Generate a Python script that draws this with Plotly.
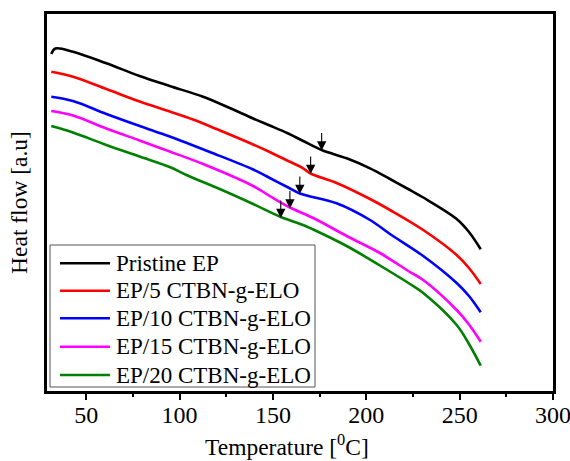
import plotly.graph_objects as go

# ---- data (arbitrary heat-flow units) ----
names = ["Pristine EP", "EP/5 CTBN-g-ELO", "EP/10 CTBN-g-ELO", "EP/15 CTBN-g-ELO", "EP/20 CTBN-g-ELO"]
colors = ["#000000", "#ff0000", "#0000ff", "#ff00ff", "#008000"]

t_black = [31.3, 33.5, 42.9, 60.8, 78.6, 94.7, 112.6, 126.9, 139.4, 148.3, 158.2, 166.2, 176.1, 189.5, 202.0, 212.7, 223.4, 230.5, 248.4, 255.0, 261.3]
y_black = [337, 342.5, 339.3, 327.7, 315, 305, 294.3, 283, 272.5, 265.5, 257.5, 250, 241, 232.7, 222.7, 212, 201, 193.5, 172, 159, 141.7]

t_red = [31.3, 42.9, 60.8, 78.6, 94.7, 107.2, 119.8, 139.4, 148.3, 158.2, 166.2, 170.2, 184.1, 202.0, 212.7, 230.5, 248.4, 255.0, 261.3]
y_red = [319.3, 314.3, 302, 289.5, 279.5, 271.5, 262, 246.5, 239, 230, 222.7, 217.5, 208, 192, 181, 161, 136, 123, 107]

t_blue = [31.3, 42.9, 60.8, 78.6, 94.7, 116.2, 139.4, 148.3, 158.2, 164.4, 184.1, 202.0, 212.7, 230.5, 248.4, 255.0, 261.3]
y_blue = [294.3, 290, 277, 265, 254.5, 239, 221.5, 213, 203.5, 197.5, 187.7, 171, 157, 135, 108, 95, 78.7]

t_mag = [31.3, 42.9, 60.8, 78.6, 94.7, 112.6, 139.4, 148.3, 159.1, 171.6, 189.5, 207.3, 223.4, 230.5, 248.4, 255.0, 261.3]
y_mag = [280, 275.5, 262.5, 250.5, 239.5, 227, 205, 195, 183.5, 173, 155, 138, 119, 111, 81, 66.5, 49.3]

t_green = [31.3, 42.9, 60.8, 78.6, 94.7, 103.7, 121.5, 139.4, 154.2, 166.2, 171.6, 189.5, 207.3, 223.4, 230.5, 248.4, 255.0, 261.3]
y_green = [265, 258.5, 246, 234.5, 224, 216, 202, 187, 174, 166, 161.5, 145, 125.5, 107, 98, 66, 47, 25.3]

# glass-transition arrows (temperature, curve value at arrow tip)
arrow_t = [176.1, 170.2, 164.4, 159.1, 154.2]
arrow_y = [240.5, 217, 197, 182.5, 173]

x_ticks = [50, 100, 150, 200, 250, 300]

series_t = [t_black, t_red, t_blue, t_mag, t_green]
series_y = [y_black, y_red, y_blue, y_mag, y_green]

FONT = "Liberation Serif, Times New Roman, serif"

fig = go.Figure()
for n, c, tt, yy in zip(names, colors, series_t, series_y):
    fig.add_trace(go.Scatter(x=tt, y=yy, mode="lines", name=n,
                             line=dict(color=c, width=2.6, shape="spline", smoothing=1.0),
                             showlegend=False))

for at, ay in zip(arrow_t, arrow_y):
    fig.add_annotation(x=at, y=ay, xref="x", yref="y", text="", showarrow=True,
                       ax=0, ay=-19, arrowhead=2, arrowsize=1.7, arrowwidth=1.1,
                       arrowcolor="#000000")

# ---- manual legend (box, line samples, labels) ----
W_PLOT, H_PLOT, L, B = 506, 377, 47, 70
def px_x(p):
    return (p - L) / W_PLOT
def px_y(p):
    return (461 - B - p) / H_PLOT

fig.add_shape(type="rect", xref="paper", yref="paper",
              x0=px_x(50), x1=px_x(315), y0=px_y(387), y1=px_y(245),
              line=dict(color="#555555", width=1), fillcolor="white", layer="above")
row_px = [263.3, 290.7, 318.3, 346.7, 375]
for n, c, r in zip(names, colors, row_px):
    fig.add_shape(type="line", xref="paper", yref="paper",
                  x0=px_x(60), x1=px_x(110), y0=px_y(r), y1=px_y(r),
                  line=dict(color=c, width=2.6), layer="above")
    fig.add_annotation(x=px_x(114), y=px_y(r), xref="paper", yref="paper",
                       text=n, showarrow=False, xanchor="left", yanchor="middle",
                       font=dict(family=FONT, size=23, color="#000000"))

# x-axis title (placed slightly left of centre, as in the reference)
fig.add_annotation(x=px_x(287), y=px_y(445), xref="paper", yref="paper",
                   text="Temperature [<sup>0</sup>C]", showarrow=False,
                   xanchor="center", yanchor="middle",
                   font=dict(family=FONT, size=23.5, color="#000000"))

fig.update_layout(
    width=570, height=461,
    margin=dict(l=L, r=17, t=14, b=B, autoexpand=False),
    paper_bgcolor="white", plot_bgcolor="white",
    font=dict(family=FONT, size=23, color="#000000"),
    xaxis=dict(range=[29, 300], tickvals=x_ticks, ticks="outside", ticklen=6, tickwidth=2,
               tickcolor="#000000", showline=True, linecolor="#000000", linewidth=2.5,
               mirror=True, showgrid=False, zeroline=False, automargin=False,
               tickfont=dict(family=FONT, size=24), ticklabeloverflow="allow",
               ticklabelstandoff=-6,
               minor=dict(dtick=25, tick0=25, ticks="outside", ticklen=3, tickwidth=1.5,
                          tickcolor="#000000", showgrid=False)),
    yaxis=dict(range=[0, 377], showticklabels=False, ticks="", showline=True,
               linecolor="#000000", linewidth=2.5, mirror=True, showgrid=False,
               zeroline=False, automargin=False,
               title=dict(text="Heat flow [a.u]", standoff=11,
                          font=dict(family=FONT, size=23.5))),
)

fig.write_html("out.html", config={"displayModeBar": False},
               post_script="document.body.style.margin='0px';document.body.style.overflow='hidden';")
